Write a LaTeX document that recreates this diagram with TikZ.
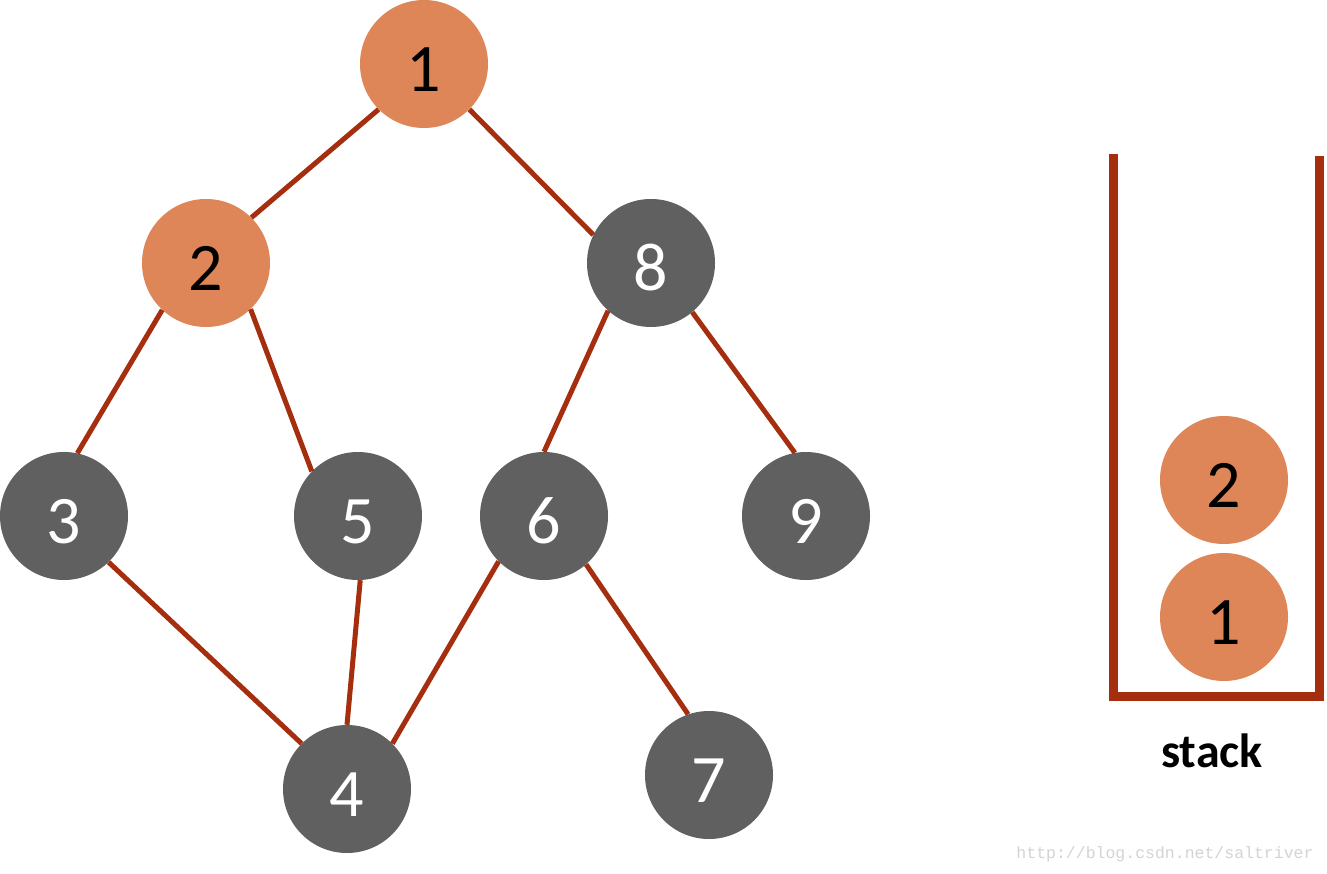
\documentclass[tikz,border=0pt]{standalone}
\usepackage{fontspec}
\setmainfont{Carlito}
\newfontfamily\wmfont{Liberation Mono}
\definecolor{nodeorange}{HTML}{DE8657}
\definecolor{nodegrey}{HTML}{606060}
\definecolor{edgered}{HTML}{A52E0E}
\definecolor{wmgrey}{HTML}{D4D4D4}
\begin{document}
\begin{tikzpicture}[x=1pt,y=-1pt,
  vtx/.style={circle,minimum size=128pt,inner sep=0pt,draw=none,
    font=\fontsize{68}{68}\selectfont,text height=55pt,text depth=0pt},
  hot/.style={vtx,fill=nodeorange,text=black},
  cold/.style={vtx,fill=nodegrey,text=white},
  edge/.style={draw=edgered,line width=5pt},
  stackwall/.style={draw=edgered,line width=9pt,line join=miter}]
\useasboundingbox (0,0) rectangle (1327,874);
\fill[white] (0,0) rectangle (1327,874);
\node[hot]  (n1) at (424,64)  {1};
\node[hot]  (n2) at (206,263) {2};
\node[cold] (n8) at (651,263) {8};
\node[cold] (n3) at (64,516)  {3};
\node[cold] (n5) at (358,516) {5};
\node[cold] (n6) at (544,516) {6};
\node[cold] (n9) at (806,516) {9};
\node[cold] (n4) at (347,789) {4};
\node[cold] (n7) at (709,775) {7};
\draw[edge] (n1.225) -- (n2.45);
\draw[edge] (n1.-45) -- (n8.154);
\draw[edge] (n2.-133) -- (n3.78);
\draw[edge] (n2.-46) -- (n5.136);
\draw[edge] (n8.-132) -- (n6.90);
\draw[edge] (n8.-50) -- (n9.100);
\draw[edge] (n3.-46) -- (n4.135);
\draw[edge] (n5.-88) -- (n4.90);
\draw[edge] (n6.-135) -- (n4.45);
\draw[edge] (n6.-49) -- (n7.109);
\coordinate (stl) at (1113,154);
\coordinate (sbl) at (1113,696);
\coordinate (sbr) at (1319,696);
\coordinate (str) at (1319,156);
\draw[stackwall] (stl) -- (sbl) -- (sbr) -- (str);
\node[hot] (s2) at (1224,480) {2};
\node[hot] (s1) at (1224,617) {1};
\node[anchor=base,font=\bfseries\fontsize{48}{48}\selectfont] (lbl) at (1212,767) {stack};
\node[anchor=base,font=\wmfont\fontsize{16.5}{16.5}\selectfont,text=wmgrey] (wm) at (1165,858) {http://blog.csdn.net/saltriver};
\end{tikzpicture}
\end{document}
